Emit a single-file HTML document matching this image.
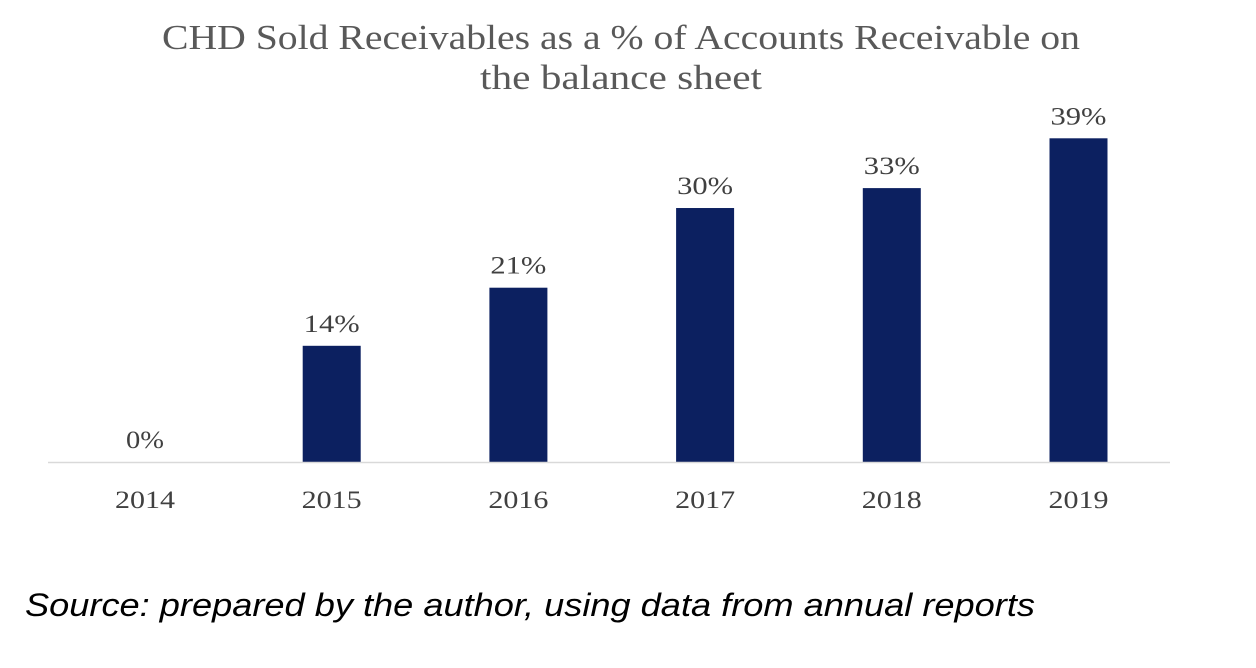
<!DOCTYPE html>
<html><head><meta charset="utf-8"><style>
body{margin:0;background:#fff;width:1256px;height:663px;overflow:hidden}
svg text{font-family:"Liberation Serif",serif}
</style></head><body>
<svg width="1256" height="663" viewBox="0 0 1256 663" xmlns="http://www.w3.org/2000/svg">
<text x="162" y="49" textLength="918" lengthAdjust="spacingAndGlyphs" font-size="35" fill="#595959">CHD Sold Receivables as a % of Accounts Receivable on</text>
<text x="480" y="89" textLength="282" lengthAdjust="spacingAndGlyphs" font-size="35" fill="#595959">the balance sheet</text>
<g id="bars"></g>
<line x1="48" y1="462.5" x2="1170" y2="462.5" stroke="#d9d9d9" stroke-width="1.5"/>
<text x="25" y="616" textLength="1010" lengthAdjust="spacingAndGlyphs" font-size="32" font-style="italic" fill="#000" style="font-family:'Liberation Sans',sans-serif">Source: prepared by the author, using data from annual reports</text>
</svg>
<script>
const categories=["2014","2015","2016","2017","2018","2019"];
const values=[0,14,21,30.6,33,39];
const valueLabels=["0%","14%","21%","30%","33%","39%"];
const ns="http://www.w3.org/2000/svg";
const g=document.getElementById("bars");
function xCenter(i){return 145+i*186.7;}
function yScale(v){return 462-v*8.3;}
const bw=58;
categories.forEach((c,i)=>{
  const cx=xCenter(i),y=yScale(values[i]);
  if(values[i]>0){
    const r=document.createElementNS(ns,"rect");
    
    
    r.setAttribute("x",cx-bw/2);r.setAttribute("y",y);
    r.setAttribute("width",bw);r.setAttribute("height",462-y);
    r.setAttribute("fill","#0c2060");
    g.appendChild(r);
  }
  const t=document.createElementNS(ns,"text");
  
  
  const lw=valueLabels[i].length===2?38:56;
  t.setAttribute("x",cx-lw/2);t.setAttribute("y",y-14);
  t.setAttribute("textLength",lw);t.setAttribute("lengthAdjust","spacingAndGlyphs");
  t.setAttribute("font-size","25");
  t.setAttribute("fill","#404040");t.textContent=valueLabels[i];
  g.appendChild(t);
  const xl=document.createElementNS(ns,"text");
  
  
  xl.setAttribute("x",cx-30);xl.setAttribute("y",508);
  xl.setAttribute("textLength",60);xl.setAttribute("lengthAdjust","spacingAndGlyphs");
  xl.setAttribute("font-size","25");
  xl.setAttribute("fill","#404040");xl.textContent=c;
  g.appendChild(xl);
});
</script>
</body></html>
